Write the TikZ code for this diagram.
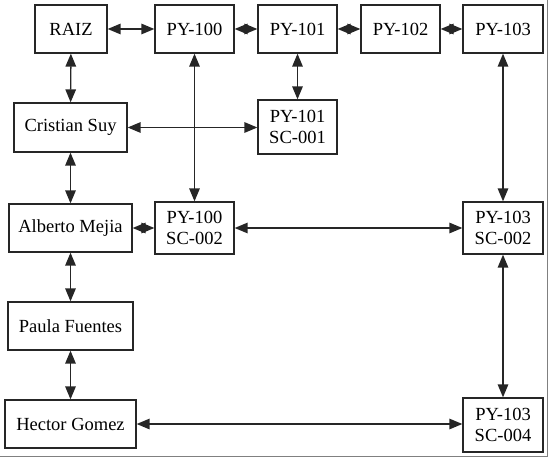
\documentclass[tikz,border=0pt]{standalone}
\usepackage{fontspec}
\setmainfont{Liberation Serif}
\usetikzlibrary{arrows.meta}
\begin{document}
\begin{tikzpicture}[x=1pt,y=-1pt,
  box/.style={draw=black!85,line width=1.3pt,minimum height=48pt,inner sep=0pt,align=center,font=\fontsize{18.5}{21.5}\selectfont},
  tall/.style={box,minimum height=52pt},
  link/.style={line width=1.4pt,draw=black!85,{Triangle[length=13pt,width=10.5pt]}-{Triangle[length=13pt,width=10.5pt]}}]
\useasboundingbox (0,0) rectangle (548,457);
\draw[gray,line width=1pt] (547,0) -- (547,456) -- (0,456);
\node[box,minimum width=72pt] (raiz) at (71,29) {RAIZ};
\node[box,minimum width=79pt] (p100) at (194.5,29) {PY-100};
\node[box,minimum width=79pt] (p101) at (297.5,29) {PY-101};
\node[box,minimum width=79pt] (p102) at (400.5,29) {PY-102};
\node[box,minimum width=80pt] (p103) at (503,29) {PY-103};
\node[box,minimum width=113pt,minimum height=49pt] (cs) at (70.5,127.5) {Cristian Suy};
\node[tall,minimum width=79pt,minimum height=54pt] (p101s) at (297.5,127) {PY-101\\SC-001};
\node[box,minimum width=123pt] (am) at (70.5,228) {Alberto Mejia};
\node[tall,minimum width=79pt] (p100s) at (194.5,228) {PY-100\\SC-002};
\node[tall,minimum width=80pt] (p103s) at (503,228) {PY-103\\SC-002};
\node[box,minimum width=125pt] (pf) at (70.5,326) {Paula Fuentes};
\node[box,minimum width=131pt] (hg) at (70.5,424) {Hector Gomez};
\node[tall,minimum width=80pt,minimum height=54pt] (p103s4) at (503,425) {PY-103\\SC-004};
\draw[link] (raiz) -- (p100);
\draw[link] (p100) -- (p101);
\draw[link] (p101) -- (p102);
\draw[link] (p102) -- (p103);
\draw[link] (raiz) -- (cs);
\draw[link] (p100) -- (p100s);
\draw[link] (p101) -- (p101s);
\draw[link] (p103) -- (p103s);
\draw[link] (cs) -- (p101s.west |- cs);
\draw[link] (cs) -- (am);
\draw[link] (am) -- (p100s);
\draw[link] (p100s) -- (p103s);
\draw[link] (am) -- (pf);
\draw[link] (pf) -- (hg);
\draw[link] (hg) -- (p103s4.west |- hg);
\draw[link] (p103s) -- (p103s4);
\end{tikzpicture}
\end{document}
